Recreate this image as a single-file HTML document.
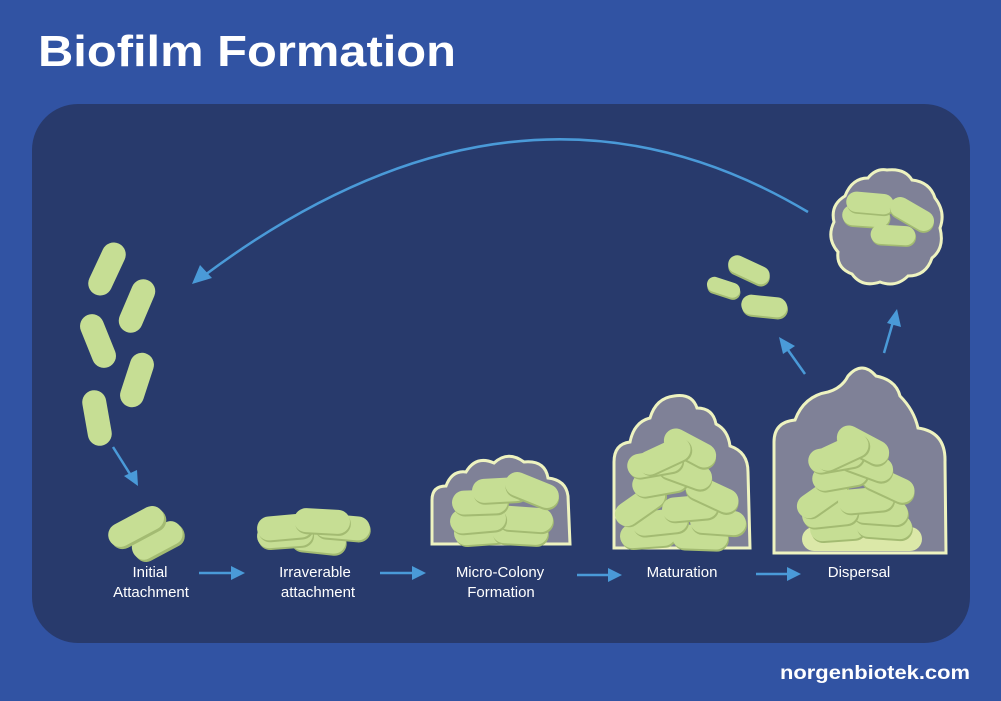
<!DOCTYPE html>
<html><head><meta charset="utf-8"><style>
html,body{margin:0;padding:0;background:#3153a3;}
svg{display:block}
text{font-family:"Liberation Sans",sans-serif;fill:#fff}
</style></head><body>
<svg width="1001" height="701" viewBox="0 0 1001 701" xmlns="http://www.w3.org/2000/svg">
<defs>
<g id="p"><rect x="-30" y="-9" width="60" height="24" rx="12" fill="#a3bb72"/><rect x="-31" y="-12" width="60" height="24" rx="12" fill="#c6de94"/></g>
<g id="pl"><rect x="-27" y="-10" width="56" height="24" rx="12" fill="#a3bb72"/><rect x="-28" y="-12" width="56" height="24" rx="12" fill="#c6de94"/></g>
</defs>
<rect width="1001" height="701" fill="#3153a3"/>
<text x="38" y="66" font-size="44" font-weight="bold" textLength="418" lengthAdjust="spacingAndGlyphs">Biofilm Formation</text>
<rect x="32" y="104" width="938" height="539" rx="46" fill="#283a6c"/>

<path d="M808,212 Q520,40 205,275" fill="none" stroke="#4a9ad8" stroke-width="2.5"/>
<path d="M192,284 L200,265 L212,278 Z" fill="#4a9ad8"/>

<g fill="#c6de94">
<rect x="-12" y="-28" width="24" height="56" rx="12" transform="translate(107,269) rotate(25)"/>
<rect x="-12" y="-28" width="24" height="56" rx="12" transform="translate(137,306) rotate(23)"/>
<rect x="-12" y="-28" width="24" height="56" rx="12" transform="translate(98,341) rotate(-22)"/>
<rect x="-12" y="-28" width="24" height="56" rx="12" transform="translate(137,380) rotate(18)"/>
<rect x="-12" y="-28" width="24" height="56" rx="12" transform="translate(97,418) rotate(-10)"/>
</g>
<line x1="113" y1="447" x2="130" y2="474" stroke="#4a9ad8" stroke-width="2.5"/>
<path d="M138,486 L124,476 L137,470 Z" fill="#4a9ad8"/>

<use href="#p" transform="translate(158,540) rotate(-28) scale(0.9,1)"/>
<use href="#p" transform="translate(137,526) rotate(-28)"/>

<use href="#pl" transform="translate(318,540) rotate(6)"/>
<use href="#pl" transform="translate(285,535) rotate(-4)"/>
<use href="#pl" transform="translate(342,527) rotate(5)"/>
<use href="#pl" transform="translate(285,527) rotate(-5)"/>
<use href="#pl" transform="translate(322,521) rotate(3)"/>

<path d="M432,544 L432,500 Q432,486 446,486 Q452,470 466,472 Q476,455 494,463 Q508,450 524,462 Q545,460 548,478 Q566,480 568,496 L570,544 Z" fill="#7f8197" stroke="#eef3c0" stroke-width="3"/>
<use href="#pl" transform="translate(482,532) rotate(-4)"/>
<use href="#pl" transform="translate(520,532) rotate(3)"/>
<use href="#pl" transform="translate(525,519) rotate(4)"/>
<use href="#pl" transform="translate(478,520) rotate(-5)"/>
<use href="#pl" transform="translate(480,502) rotate(-2)"/>
<use href="#pl" transform="translate(500,490) rotate(-3)"/>
<use href="#pl" transform="translate(532,490) rotate(22)"/>

<path d="M614,548 L614,462 Q614,444 630,442 Q634,422 650,418 Q656,398 674,396 Q692,393 697,408 Q713,408 716,424 Q728,430 730,446 Q748,452 748,472 L750,548 Z" fill="#7f8197" stroke="#eef3c0" stroke-width="3"/>
<use href="#pl" transform="translate(648,535) rotate(-4)"/>
<use href="#pl" transform="translate(700,537) rotate(2)"/>
<use href="#pl" transform="translate(718,522) rotate(4)"/>
<use href="#pl" transform="translate(660,522) rotate(-6)"/>
<use href="#pl" transform="translate(640,505) rotate(-35)"/>
<use href="#pl" transform="translate(690,508) rotate(-5)"/>
<use href="#pl" transform="translate(712,494) rotate(25)"/>
<use href="#pl" transform="translate(660,482) rotate(-10)"/>
<use href="#pl" transform="translate(685,472) rotate(20)"/>
<use href="#pl" transform="translate(655,463) rotate(-10)"/>
<use href="#pl" transform="translate(690,448) rotate(28)"/>
<use href="#pl" transform="translate(664,456) rotate(-25)"/>

<path d="M774,553 L774,442 Q774,422 795,420 Q804,396 828,392 Q842,388 848,376 Q862,360 876,376 Q896,380 900,396 Q914,410 918,428 Q946,432 945,462 L946,553 Z" fill="#7f8197" stroke="#eef3c0" stroke-width="3"/>
<rect x="802" y="527" width="120" height="24" rx="12" fill="#dbe8a8"/>
<use href="#pl" transform="translate(838,528) rotate(-4)"/>
<use href="#pl" transform="translate(884,526) rotate(4)"/>
<use href="#pl" transform="translate(880,512) rotate(4)"/>
<use href="#pl" transform="translate(830,514) rotate(-6)"/>
<use href="#pl" transform="translate(822,497) rotate(-35)"/>
<use href="#pl" transform="translate(866,500) rotate(-5)"/>
<use href="#pl" transform="translate(888,484) rotate(25)"/>
<use href="#pl" transform="translate(840,476) rotate(-10)"/>
<use href="#pl" transform="translate(866,464) rotate(20)"/>
<use href="#pl" transform="translate(836,458) rotate(-10)"/>
<use href="#pl" transform="translate(863,445) rotate(28)"/>
<use href="#pl" transform="translate(842,452) rotate(-25)"/>

<g transform="translate(749,272) rotate(25)"><rect x="-22" y="-9" width="44" height="18" rx="9" fill="#a3bb72"/><rect x="-23" y="-11" width="44" height="18" rx="9" fill="#c6de94"/></g>
<g transform="translate(724,289) rotate(18)"><rect x="-17" y="-7" width="34" height="15" rx="7.5" fill="#a3bb72"/><rect x="-18" y="-9" width="34" height="15" rx="7.5" fill="#c6de94"/></g>
<g transform="translate(764,308) rotate(6)"><rect x="-22" y="-10" width="46" height="20" rx="10" fill="#a3bb72"/><rect x="-23" y="-12" width="46" height="20" rx="10" fill="#c6de94"/></g>

<path d="M887,170 Q905,168 912,180 Q930,182 935,198 Q946,212 940,228 Q945,248 932,258 Q926,276 908,276 Q896,288 880,282 Q862,288 852,274 Q836,268 838,252 Q826,238 834,222 Q830,205 845,196 Q852,178 868,178 Q876,168 887,170 Z" fill="#7f8197" stroke="#eef3c0" stroke-width="3"/>
<use href="#pl" transform="translate(866,216) rotate(4) scale(0.85,0.85)"/>
<use href="#pl" transform="translate(893,235) rotate(3) scale(0.8,0.8)"/>
<use href="#pl" transform="translate(870,203) rotate(5) scale(0.85,0.85)"/>
<use href="#pl" transform="translate(912,214) rotate(30) scale(0.85,0.85)"/>

<line x1="805" y1="374" x2="788" y2="350" stroke="#4a9ad8" stroke-width="2.5"/>
<path d="M779,337 L795,346 L783,354 Z" fill="#4a9ad8"/>
<line x1="884" y1="353" x2="893" y2="322" stroke="#4a9ad8" stroke-width="2.5"/>
<path d="M897,309 L901,327 L887,323 Z" fill="#4a9ad8"/>

<g font-size="15" text-anchor="middle">
<text x="150" y="577">Initial</text>
<text x="151" y="597">Attachment</text>
<text x="315" y="577">Irraverable</text>
<text x="318" y="597">attachment</text>
<text x="500" y="577">Micro-Colony</text>
<text x="501" y="597">Formation</text>
<text x="682" y="577">Maturation</text>
<text x="859" y="577">Dispersal</text>
</g>
<g stroke="#4a9ad8" stroke-width="2.5">
<line x1="199" y1="573" x2="232" y2="573"/>
<line x1="380" y1="573" x2="413" y2="573"/>
<line x1="577" y1="575" x2="609" y2="575"/>
<line x1="756" y1="574" x2="788" y2="574"/>
</g>
<g fill="#4a9ad8">
<path d="M245,573 L231,566 L231,580 Z"/>
<path d="M426,573 L412,566 L412,580 Z"/>
<path d="M622,575 L608,568 L608,582 Z"/>
<path d="M801,574 L787,567 L787,581 Z"/>
</g>
<text x="970" y="679" font-size="19" font-weight="bold" text-anchor="end" textLength="190" lengthAdjust="spacingAndGlyphs">norgenbiotek.com</text>
</svg>
</body></html>
